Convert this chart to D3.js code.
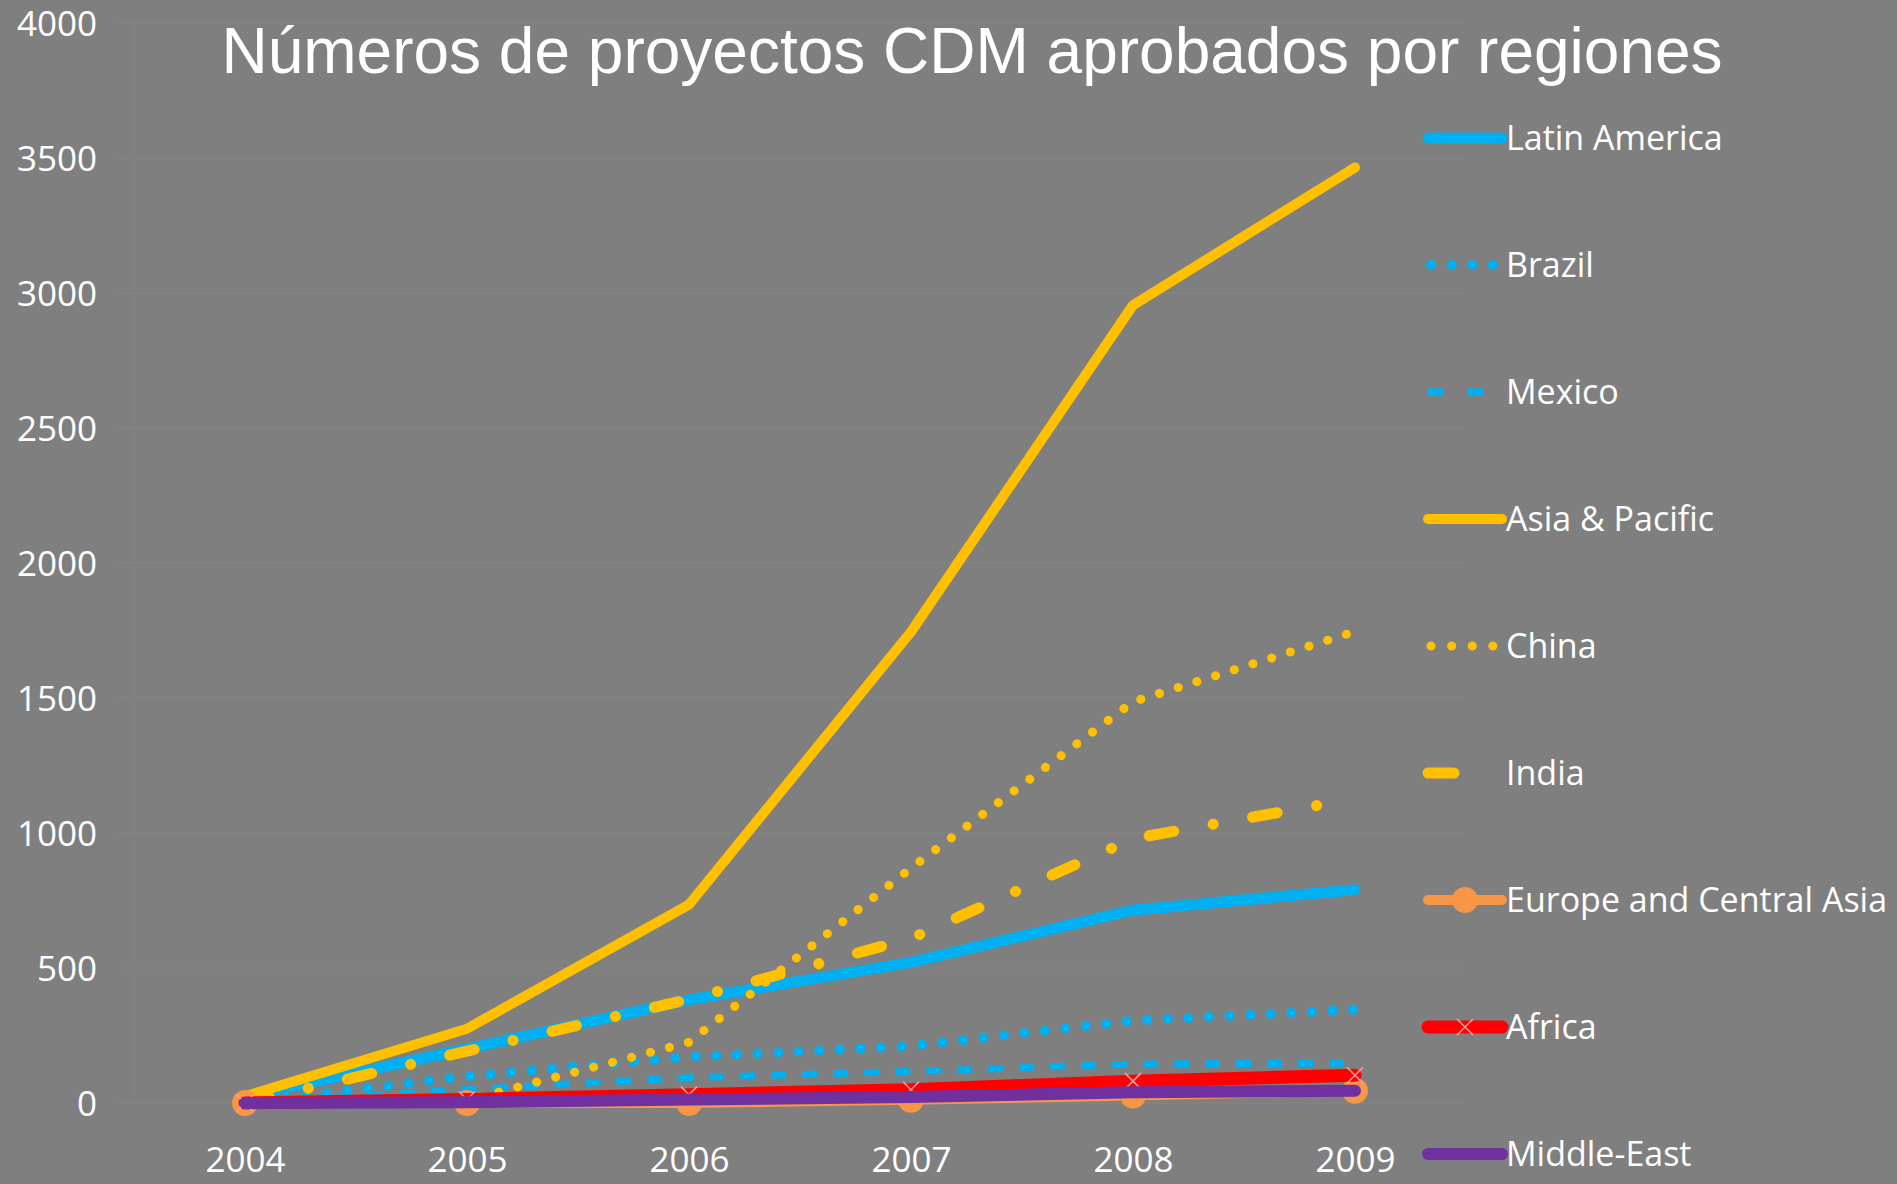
<!DOCTYPE html>
<html>
<head>
<meta charset="utf-8">
<script src="https://cdn.jsdelivr.net/npm/d3@7"></script>
<style>
  html, body { margin: 0; padding: 0; background: #7f7f7f; }
  svg { display: block; }
</style>
</head>
<body>
<script>
const years = [2004, 2005, 2006, 2007, 2008, 2009];
const yTicks = [0, 500, 1000, 1500, 2000, 2500, 3000, 3500, 4000];
const seriesNames = ["Latin America", "Brazil", "Mexico", "Asia & Pacific", "China", "India", "Europe and Central Asia", "Africa", "Middle-East"];
const latinAmerica = [25, 200, 382, 521, 714, 790];
const brazil = [0, 99, 171, 211, 305, 346];
const mexico = [0, 50, 94, 117, 144, 148];
const asiaPacific = [25, 275, 735, 1745, 2955, 3465];
const china = [0, 10, 225, 870, 1486, 1746];
const india = [0, 192, 384, 610, 979, 1127];
const europeCentralAsia = [0, 0, 0, 12, 28, 45];
const africa = [0, 13, 31, 49, 81, 103];
const middleEast = [0, 3, 13, 22, 40, 45];
const titleText = "Números de proyectos CDM aprobados por regiones";

const W = 1897, H = 1184;
const svg = d3.select("body").append("svg").attr("width", W).attr("height", H);
svg.append("rect").attr("width", W).attr("height", H).attr("fill", "#7f7f7f");

const x = d3.scaleLinear().domain([2004, 2009]).range([245, 1355]);
const y = d3.scaleLinear().domain([0, 4000]).range([1103, 23]);

// faint gridlines
svg.append("g").selectAll("line").data(yTicks).join("line")
  .attr("x1", 118).attr("x2", 1465)
  .attr("y1", d => y(d)).attr("y2", d => y(d))
  .attr("stroke", "#868686").attr("stroke-width", 1.2);
svg.append("line").attr("x1", 135).attr("x2", 135).attr("y1", y(4000)).attr("y2", y(0))
  .attr("stroke", "#848484").attr("stroke-width", 1);

const tickFont = "'Open Sans', 'Noto Sans', sans-serif";

// Y axis
const yAxis = svg.append("g").attr("transform", "translate(97,0)")
  .call(d3.axisLeft(y).tickValues(yTicks).tickSize(0).tickPadding(0).tickFormat(d3.format("d")));
yAxis.select(".domain").remove();
yAxis.selectAll("text").attr("fill", "#ffffff").attr("font-family", tickFont)
  .attr("font-size", 35).attr("dy", "0.36em");

// X axis
const xAxis = svg.append("g").attr("transform", "translate(0,1172)")
  .call(d3.axisBottom(x).tickValues(years).tickSize(0).tickPadding(0).tickFormat(d3.format("d")));
xAxis.select(".domain").remove();
xAxis.selectAll("text").attr("fill", "#ffffff").attr("font-family", tickFont)
  .attr("font-size", 35).attr("dy", "0");

// Title
svg.append("text").attr("x", 972).attr("y", 73).attr("text-anchor", "middle")
  .attr("fill", "#ffffff").attr("font-family", "'Liberation Sans', Arial, sans-serif")
  .attr("font-size", 64).text(titleText);

const styles = [
  { color: "#00b0f0", width: 11, dash: null, cap: "round" },
  { color: "#00b0f0", width: 10, dash: "0.1 20.5", cap: "round" },
  { color: "#00b0f0", width: 7, dash: "15 16", cap: "butt" },
  { color: "#ffc000", width: 10, dash: null, cap: "round" },
  { color: "#ffc000", width: 9, dash: "0.1 19.5", cap: "round" },
  { color: "#ffc000", width: 11, dash: "25 40 0.1 40", cap: "round" },
  { color: "#f79646", width: 10, dash: null, cap: "round", marker: "circle" },
  { color: "#ff0000", width: 13, dash: null, cap: "round", marker: "x" },
  { color: "#7030a0", width: 12, dash: null, cap: "round" }
];
const values = [latinAmerica, brazil, mexico, asiaPacific, china, india, europeCentralAsia, africa, middleEast];

const line = d3.line().x((d, i) => x(years[i])).y(d => y(d));

values.forEach((vals, k) => {
  const s = styles[k];
  const g = svg.append("g");
  g.append("path").attr("d", line(vals)).attr("fill", "none")
    .attr("stroke", s.color).attr("stroke-width", s.width)
    .attr("stroke-linecap", s.cap).attr("stroke-linejoin", "round")
    .attr("stroke-dasharray", s.dash);
  if (s.marker === "circle") {
    g.selectAll("circle").data(vals).join("circle")
      .attr("cx", (d, i) => x(years[i])).attr("cy", d => y(d)).attr("r", 13)
      .attr("fill", "#f79646");
  }
  if (s.marker === "x") {
    const sz = 8;
    g.selectAll("path.mk").data(vals).join("path").attr("class", "mk")
      .attr("d", (d, i) => {
        const cx = x(years[i]), cy = y(d);
        return `M${cx - sz},${cy - sz}L${cx + sz},${cy + sz}M${cx - sz},${cy + sz}L${cx + sz},${cy - sz}`;
      })
      .attr("stroke", "#ffa0a0").attr("stroke-width", 1.5).attr("fill", "none");
  }
});

// Legend
const legY = d3.scaleLinear().domain([0, 8]).range([138, 1154]);
const legX0 = 1428, legX1 = 1502, textX = 1506;
seriesNames.forEach((name, k) => {
  const s = styles[k];
  const ly = legY(k);
  const g = svg.append("g");
  let x2 = legX1;
  let dash = s.dash;
  if (k === 1 || k === 4) { dash = "0.1 20.5"; x2 = 1500; }
  if (k === 2) { dash = "15 25"; x2 = 1483; }
  if (k === 5) { dash = "26 60"; x2 = 1460; }
  g.append("line").attr("x1", k === 1 || k === 4 ? legX0 + 3 : legX0).attr("x2", x2)
    .attr("y1", ly).attr("y2", ly)
    .attr("stroke", s.color).attr("stroke-width", s.width)
    .attr("stroke-linecap", s.cap).attr("stroke-dasharray", dash);
  if (s.marker === "circle") {
    g.append("circle").attr("cx", 1465).attr("cy", ly).attr("r", 13).attr("fill", "#f79646");
  }
  if (s.marker === "x") {
    const sz = 8, cx = 1465;
    g.append("path").attr("d", `M${cx - sz},${ly - sz}L${cx + sz},${ly + sz}M${cx - sz},${ly + sz}L${cx + sz},${ly - sz}`)
      .attr("stroke", "#ffa0a0").attr("stroke-width", 1.5).attr("fill", "none");
  }
  g.append("text").attr("x", textX).attr("y", ly).attr("dy", "0.36em")
    .attr("fill", "#ffffff").attr("font-family", tickFont).attr("font-size", 34).text(name);
});
</script>
</body>
</html>
